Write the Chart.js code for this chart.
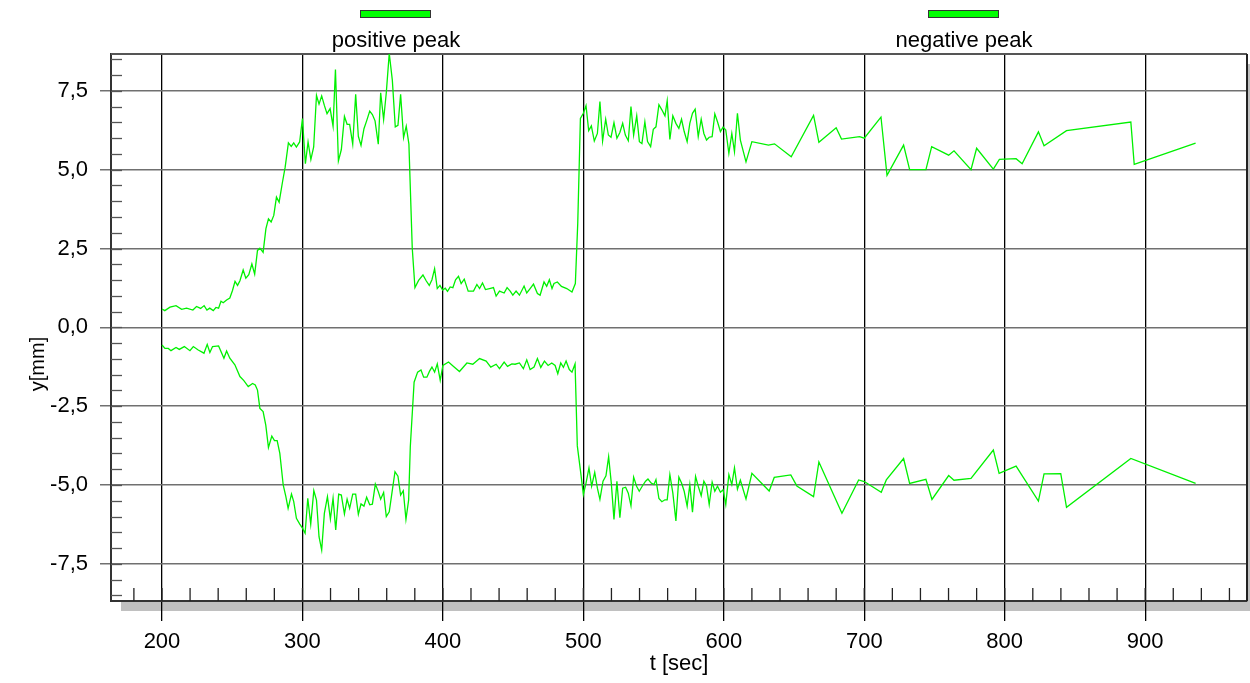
<!DOCTYPE html>
<html><head><meta charset="utf-8">
<script src="https://cdn.jsdelivr.net/npm/chart.js@4.4.1/dist/chart.umd.min.js"></script>
<style>html,body{margin:0;padding:0;background:#fff;}#wrap{width:1250px;height:683px;position:relative;}</style>
</head><body><div id="wrap"><canvas id="c" width="1250" height="683"></canvas></div>
<script>
const seriesNames = ['positive peak', 'negative peak'];
const xTitle = 't [sec]';
const yTitle = 'y[mm]';

const posT = [
200,202,205.7,210,214,217.5,222,224.6,227.5,230,
232,234,236.5,238.4,240.3,242,243.6,246,248.3,250.2,
252,253.8,255.5,257.8,259.7,261.8,264,266,268,269.7,
272,274,275.8,277.7,279.6,281.5,283.4,285.8,287.7,290,
292,293.8,295.7,298,300,302.1,304,306,308,310,
311.8,313.7,315.6,317.5,319.7,321.8,323.5,325.6,327.7,329.9,
331.8,333.6,335.8,337.9,339.8,341.7,343.8,345.7,347.9,349.8,
351.7,354,355.7,357.8,359.7,361.8,364,366.1,368,369.9,
372,373.9,375.8,378.2,380.1,382.7,385.8,388.2,390.3,392.2,
394.1,396,397.9,399.8,401.7,403.3,405.2,407.1,409,411.1,
413,415.2,418,421.8,424.2,426.1,428.2,430.3,433.2,436,
437.9,440.3,443.6,445.7,447.9,449.8,452.1,454.5,457.8,459.7,
462.1,464.5,467.3,469.2,472,473.9,475.8,477.7,479.1,481.5,
484.4,488.2,491.9,494.3,496,497.9,500,501.9,503.8,505.7,
507.8,510,511.8,513.7,515.9,517.8,519.7,521.8,523.9,526,
528,529.9,532,533.9,535.8,538,539.9,541.7,543.8,545.7,
547.9,549.8,551.7,553.8,555.9,558.1,559.7,561.6,563.7,565.9,
568,569.9,571.8,573.9,575.8,577.7,579.6,581.8,583.9,585.8,
587.7,589.6,591.7,593.6,595.5,597.6,599.5,601.4,603.6,605.7,
607.6,609.7,611.8,615.8,620,631.8,636.1,648,663.9,667.7,
680,683.8,696.7,700,711.9,716.2,728,732.3,743.9,748,
760.1,763.9,776,780,791.9,796.2,808.1,812.4,824,828,
844,889.8,892.2,935.9];
const posY = [
0.58,0.53,0.64,0.69,0.57,0.61,0.55,0.66,0.60,0.69,
0.55,0.61,0.53,0.63,0.61,0.83,0.78,0.87,0.93,1.17,
1.46,1.33,1.48,1.82,1.56,1.67,2.01,1.69,2.44,2.51,
2.38,3.13,3.44,3.34,3.55,4.13,3.97,4.61,5.08,5.85,
5.74,5.85,5.72,5.88,6.62,5.19,5.88,5.32,5.72,7.36,
7.08,7.34,7.04,6.78,6.94,6.38,8.18,5.28,5.64,6.69,
6.44,6.44,5.81,7.39,6.06,5.77,6.30,6.55,6.86,6.75,
6.55,5.81,7.44,6.59,7.44,8.69,7.84,6.36,6.41,7.39,
6.02,6.38,5.81,2.50,1.26,1.49,1.66,1.47,1.33,1.51,
1.86,1.23,1.33,1.18,1.24,1.14,1.28,1.26,1.51,1.62,
1.39,1.53,1.15,1.15,1.36,1.23,1.41,1.20,1.23,1.26,
0.99,1.15,1.09,1.26,1.15,1.02,1.15,1.02,1.31,1.09,
1.23,1.37,1.07,1.02,1.44,1.30,1.51,1.23,1.39,1.44,
1.30,1.23,1.12,1.39,3.29,6.63,6.79,7.03,6.24,6.39,
5.91,6.15,7.16,5.91,6.60,6.10,6.03,6.49,6.00,6.18,
6.47,6.10,5.92,7.00,6.10,6.71,5.89,5.83,6.52,5.89,
5.73,6.28,6.36,7.06,6.90,6.71,7.19,5.96,6.71,6.47,
6.31,6.60,6.21,5.89,6.47,6.79,6.92,6.05,6.60,6.15,
5.94,6.03,6.05,6.77,6.52,6.21,6.35,6.26,5.52,6.15,
5.57,6.79,5.94,5.25,5.89,5.78,5.82,5.41,6.72,5.87,
6.33,5.97,6.05,6.00,6.67,4.82,5.78,5.00,5.00,5.73,
5.46,5.60,5.00,5.68,5.02,5.33,5.35,5.19,6.20,5.76,
6.24,6.51,5.17,5.84];

const negT = [
200,202.1,204.5,206.4,210,212.3,215.9,219.9,222.3,225.8,
229.9,232.2,234.1,236,240.3,244.1,246,248.3,251.9,255.5,
258.3,261.4,264.5,266.4,268,269.7,272,273.9,275.8,278.2,
280.1,282,283.9,286.3,288.2,289.8,292.2,293.8,295.7,298.1,
300,301.9,303.8,305.9,308.1,310,311.8,313.7,315.6,317.8,
319.9,321.8,323.7,325.8,327.7,329.9,331.8,333.6,335.8,337.9,
339.8,341.7,343.8,345.7,347.9,349.8,351.9,354,355.7,357.8,
359.7,361.8,363.7,365.9,368,369.9,371.8,373.7,375.6,376.8,
379.5,382,384.4,386.3,388.6,390.5,392.2,394.1,396,398.1,
400,404,407.6,411.8,417.1,421.3,426.1,430.8,434.1,437.9,
440.3,443.6,446,449.1,451.4,454.5,457.3,459.7,462.1,464.9,
467.3,469.7,472.3,474.9,477.5,479.9,481.8,483.9,485.8,487.7,
490,491.9,494.1,495.7,498.1,500,501.9,504,505.9,508.1,
510,511.8,514,516.1,518,519.9,521.8,523.9,526,528,
530.1,532,533.9,535.8,537.9,539.8,541.9,544.3,546,548.3,
550.2,551.7,553.8,555.9,558.1,559.7,561.6,563.7,565.9,568,
569.9,571.8,573.9,575.8,577.7,579.9,581.8,583.9,585.8,587.7,
589.6,591.7,593.6,595.5,597.6,599.5,601.4,603.6,605.7,607.6,
609.7,611.8,615.8,620,632.3,635.9,647.7,652,663.9,667.7,
684.1,696,700,712.1,715.7,728,732.3,743.9,748.2,760.1,
763.9,776,791.9,796,808.1,824,828,839.9,844,889.8,
935.9];
const negY = [
-0.56,-0.67,-0.67,-0.74,-0.64,-0.70,-0.61,-0.74,-0.61,-0.72,
-0.82,-0.54,-0.80,-0.61,-0.59,-0.98,-0.75,-0.98,-1.19,-1.56,
-1.69,-1.88,-1.78,-1.83,-1.99,-2.57,-2.67,-3.10,-3.81,-3.45,
-3.59,-3.59,-4.00,-5.00,-5.37,-5.74,-5.29,-5.53,-6.06,-6.24,
-6.37,-6.53,-5.42,-6.24,-5.18,-5.48,-6.64,-7.06,-5.90,-5.37,
-6.08,-5.42,-6.43,-5.29,-5.32,-5.92,-5.45,-5.74,-5.29,-5.29,
-5.93,-5.60,-5.67,-5.39,-5.63,-5.61,-4.97,-5.21,-5.45,-5.24,
-6.00,-5.85,-5.26,-4.58,-4.72,-5.32,-5.18,-6.09,-5.48,-3.78,
-1.74,-1.42,-1.35,-1.58,-1.58,-1.39,-1.26,-1.42,-1.16,-1.68,
-1.21,-1.10,-1.24,-1.40,-1.13,-1.17,-0.99,-1.07,-1.26,-1.17,
-1.31,-1.10,-1.24,-1.16,-1.17,-1.13,-1.31,-1.03,-1.34,-1.26,
-0.99,-1.27,-1.07,-1.21,-1.13,-1.21,-1.47,-1.13,-1.27,-1.07,
-1.34,-1.42,-1.16,-3.76,-4.60,-5.30,-4.94,-4.46,-5.04,-4.60,
-5.10,-5.46,-4.88,-4.71,-4.10,-4.94,-6.09,-4.88,-6.04,-5.10,
-5.07,-5.26,-5.66,-4.75,-5.04,-5.20,-5.04,-4.88,-4.81,-4.94,
-4.99,-4.83,-5.43,-5.53,-5.47,-5.47,-4.67,-5.25,-6.14,-4.75,
-4.94,-5.20,-5.67,-4.99,-5.86,-4.73,-5.04,-5.34,-4.88,-5.04,
-5.62,-4.91,-5.20,-5.04,-5.23,-5.15,-5.62,-4.67,-4.99,-4.46,
-5.13,-4.85,-5.44,-4.63,-5.19,-4.76,-4.68,-5.03,-5.37,-4.27,
-5.90,-4.84,-4.89,-5.23,-4.84,-4.16,-4.95,-4.82,-5.46,-4.70,
-4.85,-4.79,-3.89,-4.63,-4.40,-5.51,-4.65,-4.64,-5.71,-4.16,
-4.95];

const xTickValues = [200, 300, 400, 500, 600, 700, 800, 900];
const yTickValues = [-7.5, -5, -2.5, 0, 2.5, 5, 7.5];
const xMinorValues = [];
for (let v = 180; v <= 960; v += 20) xMinorValues.push(v);
const yMinorValues = [];
for (let v = -8.5; v <= 8.5001; v += 0.5) yMinorValues.push(v);

const FONT = '"Liberation Sans", Arial, sans-serif';
Chart.defaults.font.family = FONT;
Chart.defaults.font.size = 22;
Chart.defaults.color = '#000';

const LINE_GREEN = '#00f000';
const BOX_CENTERS = [395, 963];

const framePlugin = {
  id: 'frame',
  beforeDraw(chart) {
    const { ctx, chartArea: a } = chart;
    ctx.save();
    ctx.fillStyle = '#c0c0c0';
    ctx.fillRect(a.left + 10, a.bottom, a.right - a.left + 10, 10);
    ctx.fillRect(a.right, a.top + 10, 10, a.bottom - a.top);
    ctx.restore();
  },
  beforeDatasetsDraw(chart) {
    const { ctx, chartArea: a, scales } = chart;
    ctx.save();
    ctx.lineWidth = 1.3;
    ctx.strokeStyle = '#555';
    yMinorValues.forEach(v => {
      const py = Math.round(scales.y.getPixelForValue(v)) + 0.5;
      ctx.beginPath(); ctx.moveTo(a.left, py); ctx.lineTo(a.left + 11, py); ctx.stroke();
    });
    ctx.strokeStyle = '#222';
    xMinorValues.forEach(v => {
      const px = scales.x.getPixelForValue(v);
      if (px < a.left || px > a.right) return;
      ctx.beginPath(); ctx.moveTo(px, a.bottom); ctx.lineTo(px, a.bottom - 13); ctx.stroke();
    });
    ctx.lineWidth = 2;
    ctx.strokeStyle = '#555';
    ctx.beginPath(); ctx.moveTo(a.left, a.top); ctx.lineTo(a.right, a.top); ctx.stroke();
    ctx.strokeStyle = '#222';
    ctx.beginPath(); ctx.moveTo(a.right, a.top); ctx.lineTo(a.right, a.bottom); ctx.stroke();
    ctx.restore();
  },
  afterDraw(chart) {
    const { ctx } = chart;
    ctx.save();
    chart.data.datasets.forEach((ds, i) => {
      const cx = BOX_CENTERS[i];
      ctx.fillStyle = '#00ff00';
      ctx.fillRect(cx - 35, 10, 70, 7);
      ctx.strokeStyle = '#333';
      ctx.lineWidth = 1;
      ctx.strokeRect(cx - 35 + 0.5, 10.5, 70, 7);
      ctx.fillStyle = '#000';
      ctx.font = '22px ' + FONT;
      ctx.textAlign = 'center';
      ctx.textBaseline = 'alphabetic';
      ctx.fillText(ds.label, cx + 1, 47);
    });
    // y axis title
    ctx.translate(38, 364);
    ctx.rotate(-Math.PI / 2);
    ctx.font = '20px ' + FONT;
    ctx.fillStyle = '#000';
    ctx.textAlign = 'center';
    ctx.textBaseline = 'middle';
    ctx.fillText(yTitle, 0, 0);
    ctx.restore();
  }
};

new Chart(document.getElementById('c'), {
  type: 'line',
  data: {
    datasets: [
      { label: seriesNames[0], data: posT.map((t, i) => ({ x: t, y: posY[i] })),
        borderColor: LINE_GREEN, borderWidth: 1.3, pointRadius: 0, fill: false, tension: 0 },
      { label: seriesNames[1], data: negT.map((t, i) => ({ x: t, y: negY[i] })),
        borderColor: LINE_GREEN, borderWidth: 1.3, pointRadius: 0, fill: false, tension: 0 }
    ]
  },
  options: {
    responsive: false, animation: false, devicePixelRatio: 1,
    layout: { padding: { top: 54, right: 3, left: 0, bottom: 0 } },
    plugins: { legend: { display: false }, tooltip: { enabled: false } },
    scales: {
      x: {
        type: 'linear', min: 163.7, max: 972.5,
        afterBuildTicks: s => { s.ticks = xTickValues.map(v => ({ value: v })); },
        afterFit: s => { s.height = 82; },
        grid: { color: '#000', lineWidth: 1.3, tickLength: 20, tickColor: '#000', tickWidth: 1.3 },
        border: { display: true, color: '#333', width: 2 },
        ticks: { padding: 8, maxRotation: 0, autoSkip: false, color: '#000', font: { size: 22 },
          callback: v => String(v) },
        title: { display: true, text: xTitle, color: '#000', font: { size: 22 }, padding: { top: 0, bottom: 6 } }
      },
      y: {
        type: 'linear', min: -8.68, max: 8.67,
        afterBuildTicks: s => { s.ticks = yTickValues.map(v => ({ value: v })); },
        afterFit: s => { s.width = 111; },
        grid: { color: '#707070', lineWidth: 1.5, tickLength: 11, tickColor: '#707070', tickWidth: 1.5 },
        border: { display: true, color: '#333', width: 2 },
        ticks: { padding: 12, autoSkip: false, color: '#000', font: { size: 22 },
          callback: v => Number(v).toFixed(1).replace('.', ',') },
        title: { display: false }
      }
    }
  },
  plugins: [framePlugin]
});
</script></body></html>
